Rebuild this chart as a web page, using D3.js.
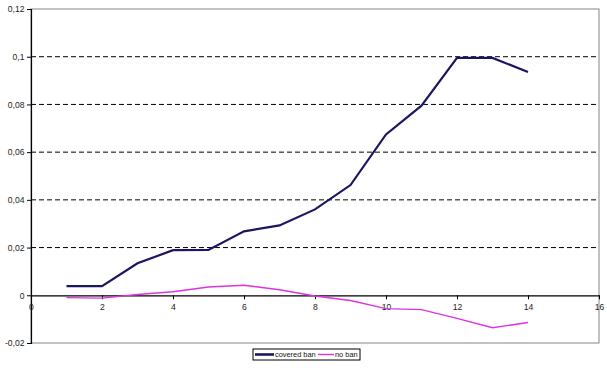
<!DOCTYPE html>
<html><head><meta charset="utf-8">
<script src="https://cdn.jsdelivr.net/npm/d3@7"></script>
<style>body{margin:0;background:#fff}svg{display:block}</style>
</head><body>
<svg id="c" width="607" height="374"></svg>
<script>
const periods = [1,2,3,4,5,6,7,8,9,10,11,12,13,14];
const coveredBan = [0.0038,0.0038,0.0134,0.0189,0.0190,0.0268,0.0293,0.0360,0.0462,0.0674,0.0795,0.0995,0.0995,0.0936];
const noBan = [-0.0010,-0.0012,0.0003,0.0015,0.0035,0.0042,0.0023,-0.0003,-0.0022,-0.0056,-0.0060,-0.0097,-0.0136,-0.0114];
const xTicks = [0,2,4,6,8,10,12,14,16];
const yTicks = [-0.02,0,0.02,0.04,0.06,0.08,0.1,0.12];
const seriesNames = ["covered ban","no ban"];
const colors = ["#1b1660","#dd33dd"];

const svg = d3.select("#c");
const x = d3.scaleLinear().domain([0,16]).range([31,599]);
const y = d3.scaleLinear().domain([-0.02,0.12]).range([343,9]);
const fmt = d => d===0 ? "0" : String(+d.toFixed(2)).replace(".", ",");
const font = "Arial, 'Liberation Sans', sans-serif";

// plot border
svg.append("rect").attr("x",x(0)).attr("y",y(0.12)).attr("width",x(16)-x(0)).attr("height",y(-0.02)-y(0.12))
  .attr("fill","none").attr("stroke","#9a9a9a").attr("stroke-width",1.2);

// grid
svg.append("g").selectAll("line").data(yTicks.filter(v=>v>0 && v<0.12)).join("line")
  .attr("x1",x(0)).attr("x2",x(16)).attr("y1",d=>y(d)).attr("y2",d=>y(d))
  .attr("stroke","#000").attr("stroke-width",1).attr("stroke-dasharray","5,3");

// y axis
const yAxis = d3.axisLeft(y).tickValues(yTicks).tickFormat(fmt).tickSize(4).tickPadding(2.5);
const gy = svg.append("g").attr("transform",`translate(${x(0)},0)`).call(yAxis);
gy.select(".domain").attr("stroke","#000").attr("stroke-width",1.2);
gy.selectAll("text").attr("font-family",font).attr("font-size",8.6).attr("fill","#222");

// x axis at zero
const xAxis = d3.axisBottom(x).tickValues(xTicks).tickFormat(d=>d).tickSize(4).tickSizeOuter(0).tickPadding(4.5);
const gx = svg.append("g").attr("transform",`translate(0,${y(0)})`).call(xAxis);
gx.select(".domain").attr("stroke","#000").attr("stroke-width",1.2);
gx.selectAll("text").attr("font-family",font).attr("font-size",8.6).attr("fill","#222");

// lines
const line = d3.line().x((d,i)=>x(periods[i])).y(d=>y(d));
svg.append("path").datum(noBan).attr("d",line).attr("fill","none").attr("stroke",colors[1]).attr("stroke-width",1.4);
svg.append("path").datum(coveredBan).attr("d",line).attr("fill","none").attr("stroke",colors[0]).attr("stroke-width",2.2);

// legend
const lg = svg.append("g");
lg.append("rect").attr("x",253).attr("y",349).attr("width",107).attr("height",11)
  .attr("fill","#fff").attr("stroke","#000").attr("stroke-width",1);
const items = [{x:255, len:19, w:2.6},{x:318, len:16, w:1.4}];
seriesNames.forEach((n,i)=>{
  lg.append("line").attr("x1",items[i].x).attr("x2",items[i].x+items[i].len).attr("y1",354.5).attr("y2",354.5)
    .attr("stroke",colors[i]).attr("stroke-width",items[i].w);
  lg.append("text").attr("x",items[i].x+items[i].len+1).attr("y",357.3).text(n)
    .attr("font-family",font).attr("font-size",7.4).attr("fill","#111");
});
</script>
</body></html>
